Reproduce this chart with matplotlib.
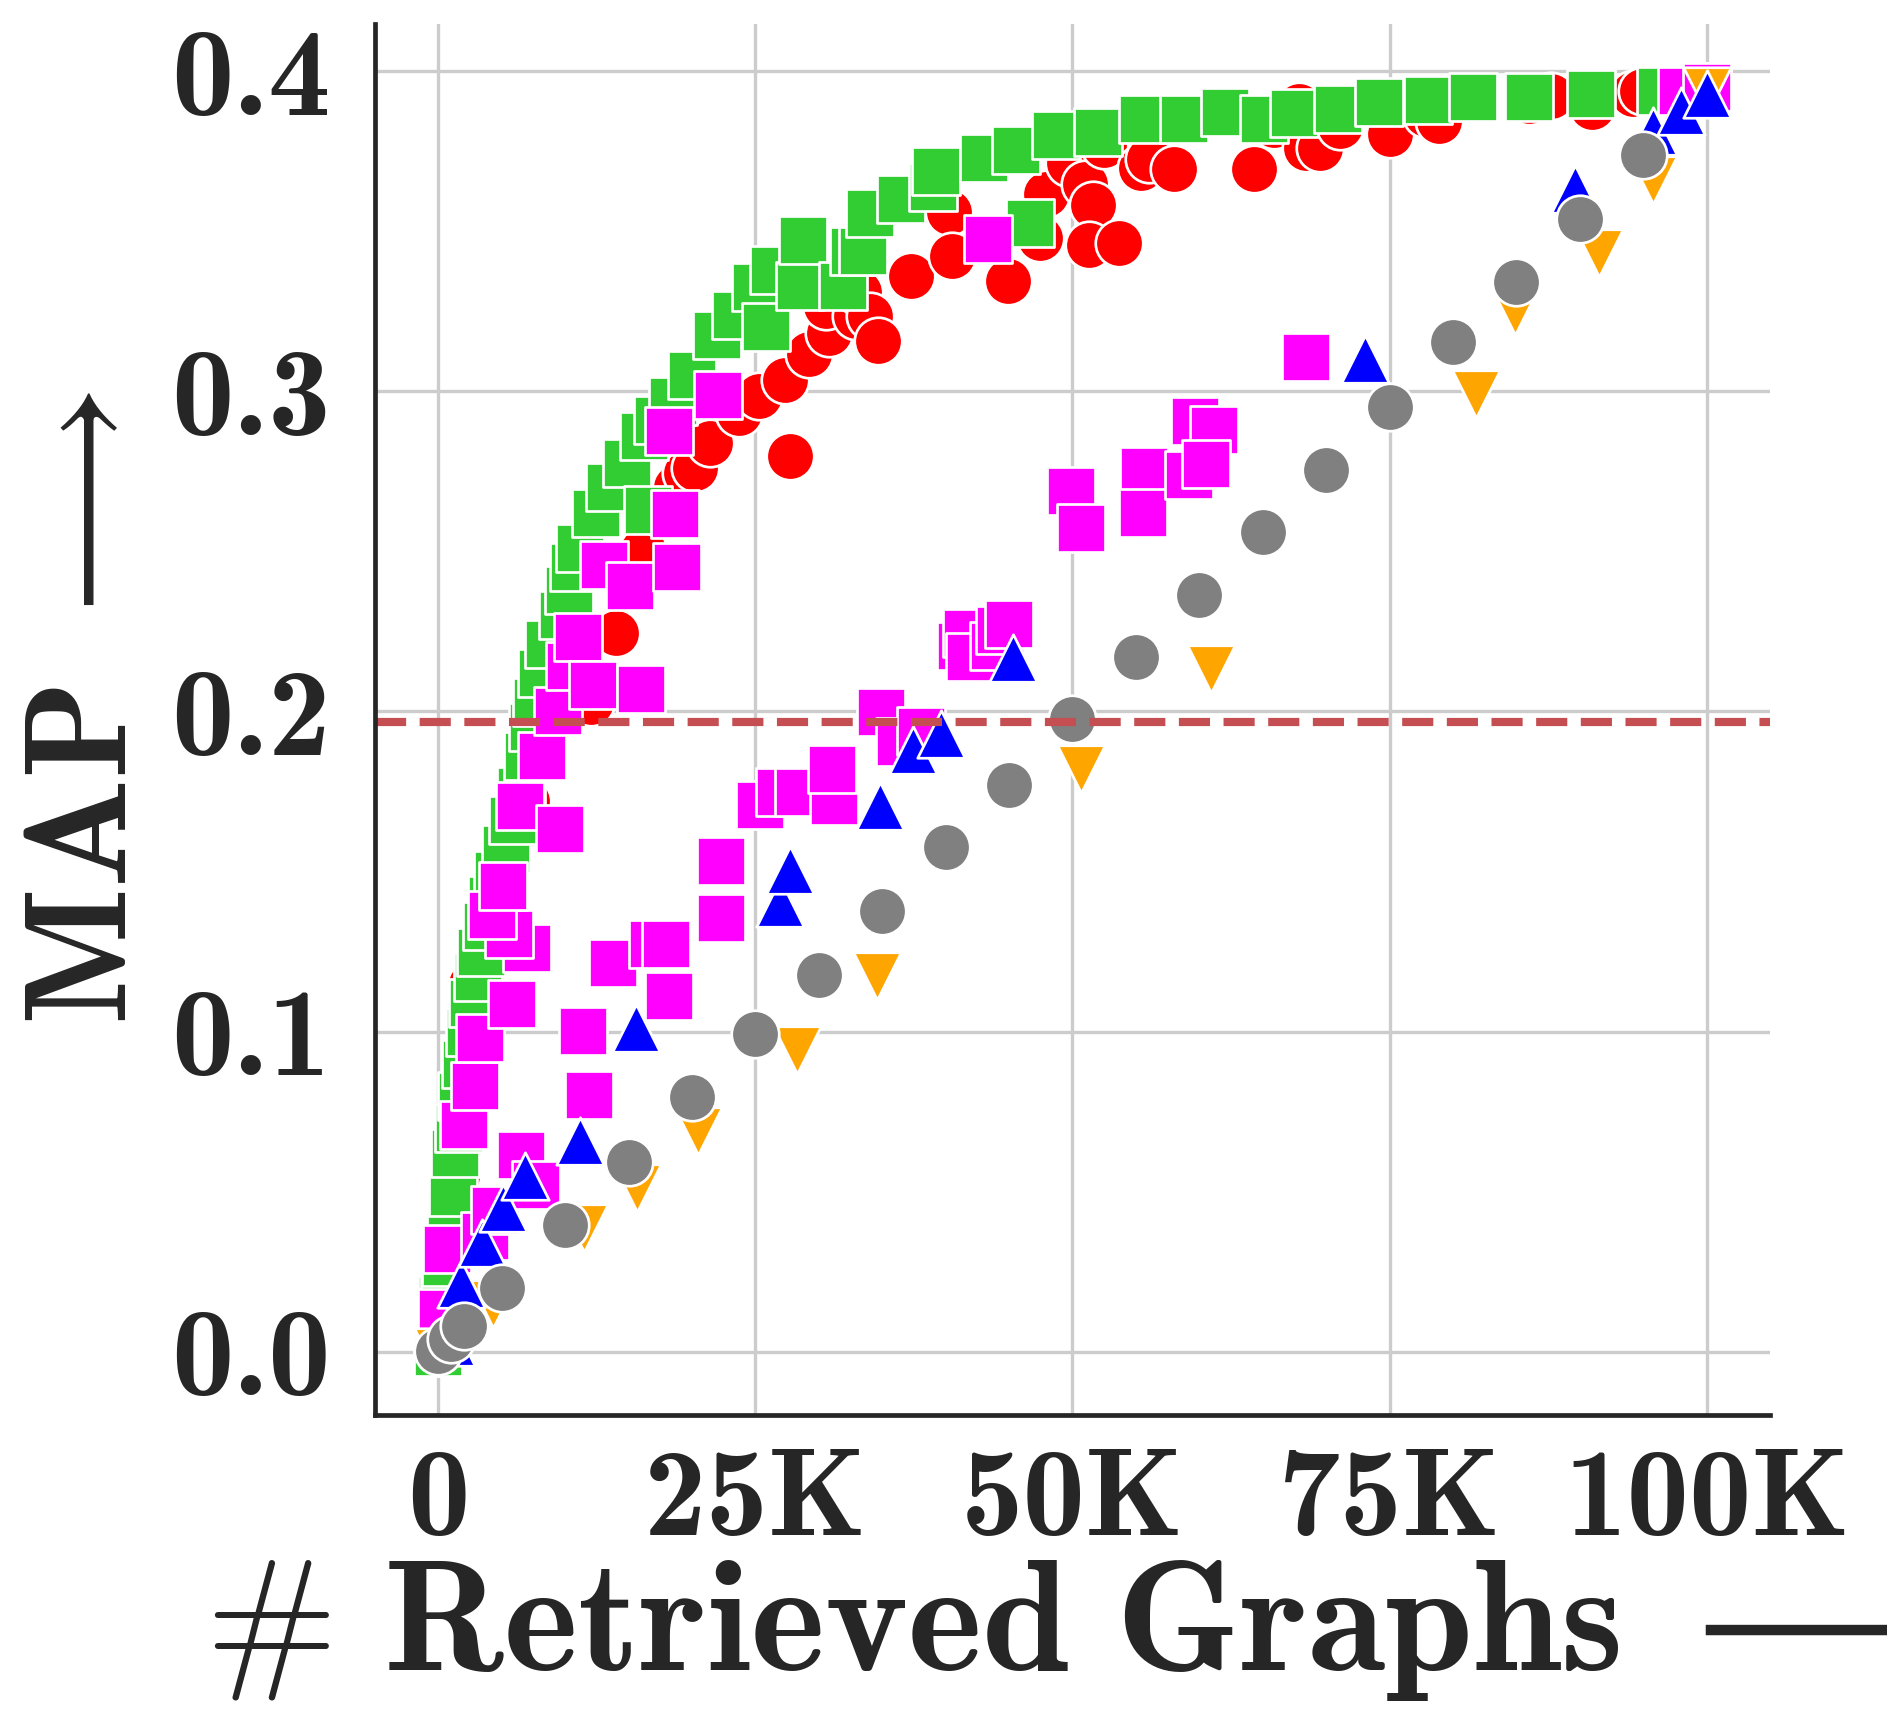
import matplotlib
matplotlib.use('Agg')
import matplotlib.pyplot as plt

plt.rcParams['mathtext.fontset'] = 'cm'
plt.rcParams['axes.unicode_minus'] = False

# red circles
red_x = [0, 300, 700, 1500, 2300, 2600, 4500, 7000, 8500, 12000, 14000, 16100, 17500, 18700,
         19500, 20200, 21400, 23700, 25300, 27370, 27760, 29260, 30840, 30600, 32940, 33200,
         34000, 34700, 37300, 40300, 40500, 44900, 47400, 47900, 49700, 51000, 51600, 51300,
         53650, 52500, 55400, 56000, 58000, 64300, 65900, 67900, 68400, 69500, 71100, 75000,
         77900, 78900, 86000, 87700, 91000, 94200, 94900, 97800, 100000]
red_y = [0.0, 0.012, 0.03, 0.055, 0.085, 0.1147, 0.14, 0.172, 0.195, 0.203, 0.2246, 0.2506, 0.262, 0.270,
         0.2746, 0.276, 0.284, 0.2933, 0.2985, 0.3035, 0.2798, 0.3116, 0.3183, 0.3267, 0.3235, 0.331,
         0.3235, 0.3157, 0.336, 0.356, 0.3423, 0.3345, 0.348, 0.3616, 0.3715, 0.3647, 0.3584, 0.3459,
         0.3465, 0.3769, 0.3699, 0.3725, 0.3694, 0.3694, 0.3834, 0.3892, 0.3761, 0.376, 0.3829, 0.3803,
         0.3866, 0.3845, 0.3907, 0.3923, 0.389, 0.3928, 0.394, 0.394, 0.395]

# green squares
green_x = [0, 100, 200, 300, 500, 600, 800, 1000, 1130, 1300, 1600, 1900, 2200, 2500, 2700, 3100,
           3400, 3800, 4200, 4700, 5300, 5900, 6500, 7100, 7500, 7800, 8200, 8700, 9800, 10300,
           10700, 11200, 12400, 13500, 14900, 16500, 16200, 17300, 18500, 20000, 22000, 23500,
           25050, 25800, 26500, 28500, 28730, 31900, 32800, 33500, 34070, 36500, 39000, 39200,
           43000, 45560, 46690, 48740, 52000, 55600, 58800, 62000, 65100, 67500, 70900, 74200,
           78000, 81600, 86000, 90900, 96400, 100000]
green_y = [0.0, 0.006, 0.012, 0.016, 0.021, 0.028, 0.036, 0.043, 0.050, 0.062, 0.070, 0.080, 0.090, 0.100, 0.109, 0.117,
           0.125, 0.133, 0.141, 0.149, 0.157, 0.166, 0.175, 0.186, 0.195, 0.203, 0.212, 0.221, 0.230, 0.238,
           0.245, 0.251, 0.262, 0.270, 0.2775, 0.263, 0.286, 0.291, 0.297, 0.305, 0.3176, 0.324,
           0.3327, 0.320, 0.338, 0.333, 0.3474, 0.333, 0.344, 0.344, 0.3556, 0.360, 0.364, 0.3689,
           0.373, 0.3753, 0.3527, 0.380, 0.381, 0.3852, 0.385, 0.3873, 0.3852, 0.387, 0.3881, 0.3904,
           0.391, 0.392, 0.392, 0.393, 0.394, 0.395]

# magenta squares
mag_x = [300, 660, 3690, 4460, 2020, 2900, 3280, 5820, 6520, 7700, 7020, 5600, 4200, 5126, 6467,
         8202, 9621, 9464, 10410, 11041, 12169, 15984, 13091, 15116, 18849, 18664, 18218, 22082,
         43375, 11435, 11900, 13794, 16950, 17980, 18218, 22320, 22292, 25371, 26970, 28470,
         31230, 31049, 34937, 36400, 38064, 41200, 41700, 41900, 43800, 44300, 45000, 49896,
         50710, 55678, 55600, 59150, 59700, 61120, 60490, 68400, 98100, 100000]
mag_y = [0.012, 0.0322, 0.0362, 0.0441, 0.0709, 0.0829, 0.098, 0.1085, 0.0613, 0.052, 0.126, 0.1306, 0.1365, 0.1454, 0.1706,
         0.186, 0.1634, 0.200, 0.2142, 0.2232, 0.2082, 0.2069, 0.2459, 0.2392, 0.2451, 0.2618, 0.2876, 0.299,
         0.3477, 0.1001, 0.0803, 0.1213, 0.1275, 0.1275, 0.111, 0.1356, 0.1532, 0.1709, 0.1747, 0.1747,
         0.172, 0.1819, 0.1997, 0.1905, 0.1938, 0.2206, 0.2244, 0.2169, 0.2203, 0.2254, 0.2273, 0.2688,
         0.2572, 0.2751, 0.2621, 0.274, 0.2907, 0.288, 0.2772, 0.3107, 0.394, 0.395]

# blue triangles
blue_x = [1000, 1800, 3450, 5100, 6800, 11200, 15600, 26900, 27700, 34800, 37400, 39600, 45300,
          73100, 89600, 95800, 98000, 100000]
blue_y = [0.003, 0.021, 0.034, 0.045, 0.0548, 0.0657, 0.101, 0.14, 0.1506, 0.1704, 0.1879, 0.1931, 0.2168,
          0.31, 0.3633, 0.3815, 0.3876, 0.3928]

# orange triangles
orange_x = [0, 4300, 11450, 15700, 20500, 28300, 34600, 50700, 60900, 81800, 84900, 91500, 95800, 100000]
orange_y = [0.0, 0.0148, 0.0385, 0.051, 0.0688, 0.0943, 0.1175, 0.182, 0.2134, 0.2993, 0.325, 0.3431, 0.3661, 0.394]

# gray circles
gray_x = [0, 1000, 2000, 5000, 10000, 15000, 20000, 25000, 30000, 35000, 40000, 45000, 50000,
          55000, 60000, 65000, 70000, 75000, 80000, 85000, 90000, 95000]
gray_y = [0.0001, 0.0038, 0.0079, 0.0199, 0.0394, 0.0593, 0.0795, 0.0991, 0.1178, 0.1376, 0.1576, 0.1769, 0.1976,
          0.2171, 0.2363, 0.2561, 0.2756, 0.2952, 0.3154, 0.3343, 0.354, 0.3738]

baseline = 0.1967

xticks = [0, 25000, 50000, 75000, 100000]
xticklabels = ['0', '25K', '50K', '75K', '100K']
yticks = [0.0, 0.1, 0.2, 0.3, 0.4]
yticklabels = ['0.0', '0.1', '0.2', '0.3', '0.4']

fig = plt.figure(figsize=(18.87, 17.27), dpi=100)
ax = fig.add_axes([0.1987, 0.1807, 0.7393, 0.8054])

S = 1170
LW = 1.95
ax.scatter(red_x, red_y, s=S, marker='o', c='red', edgecolors='white', linewidths=LW)
ax.scatter(green_x, green_y, s=S, marker='s', c='limegreen', edgecolors='white', linewidths=LW)
ax.scatter(mag_x, mag_y, s=S, marker='s', c='magenta', edgecolors='white', linewidths=LW)
ax.scatter(orange_x, orange_y, s=S, marker='v', c='orange', edgecolors='white', linewidths=LW)
ax.scatter(blue_x, blue_y, s=S, marker='^', c='blue', edgecolors='white', linewidths=LW)
ax.scatter(gray_x, gray_y, s=S, marker='o', c='gray', edgecolors='white', linewidths=LW)

ax.axhline(baseline, color='#C44E52', lw=5.9, ls='--', dashes=(3.8, 1.65))

ax.set_xlim(-5000, 105000)
ax.set_ylim(-0.0198, 0.4148)
ax.set_xticks(xticks)
ax.set_xticklabels(xticklabels)
ax.set_yticks(yticks)
ax.set_yticklabels(yticklabels)
ax.tick_params(axis='both', length=0, labelsize=90, labelcolor='#262626')
ax.tick_params(axis='x', pad=24)
ax.tick_params(axis='y', pad=32)
for lab in ax.get_xticklabels() + ax.get_yticklabels():
    lab.set_fontfamily('cmb10')

ax.grid(True, color='#cccccc', lw=2.4)
ax.set_axisbelow(True)
for side in ['top', 'right']:
    ax.spines[side].set_visible(False)
for side in ['left', 'bottom']:
    ax.spines[side].set_color('#262626')
    ax.spines[side].set_linewidth(3.4)

ax.set_xlabel('$\\mathbf{\\#\\ Retrieved\\ Graphs}\\ \\longrightarrow$', fontsize=114, color='#262626')
ax.set_ylabel('$\\mathbf{MAP}\\ \\longrightarrow$', fontsize=104, color='#262626')
ax.xaxis.label.set_va('baseline')
ax.yaxis.label.set_va('baseline')
ax.xaxis.set_label_coords(0.5, -0.1833)
ax.yaxis.set_label_coords(-0.1785, 0.508)

fig.savefig('out.png', dpi=100)
